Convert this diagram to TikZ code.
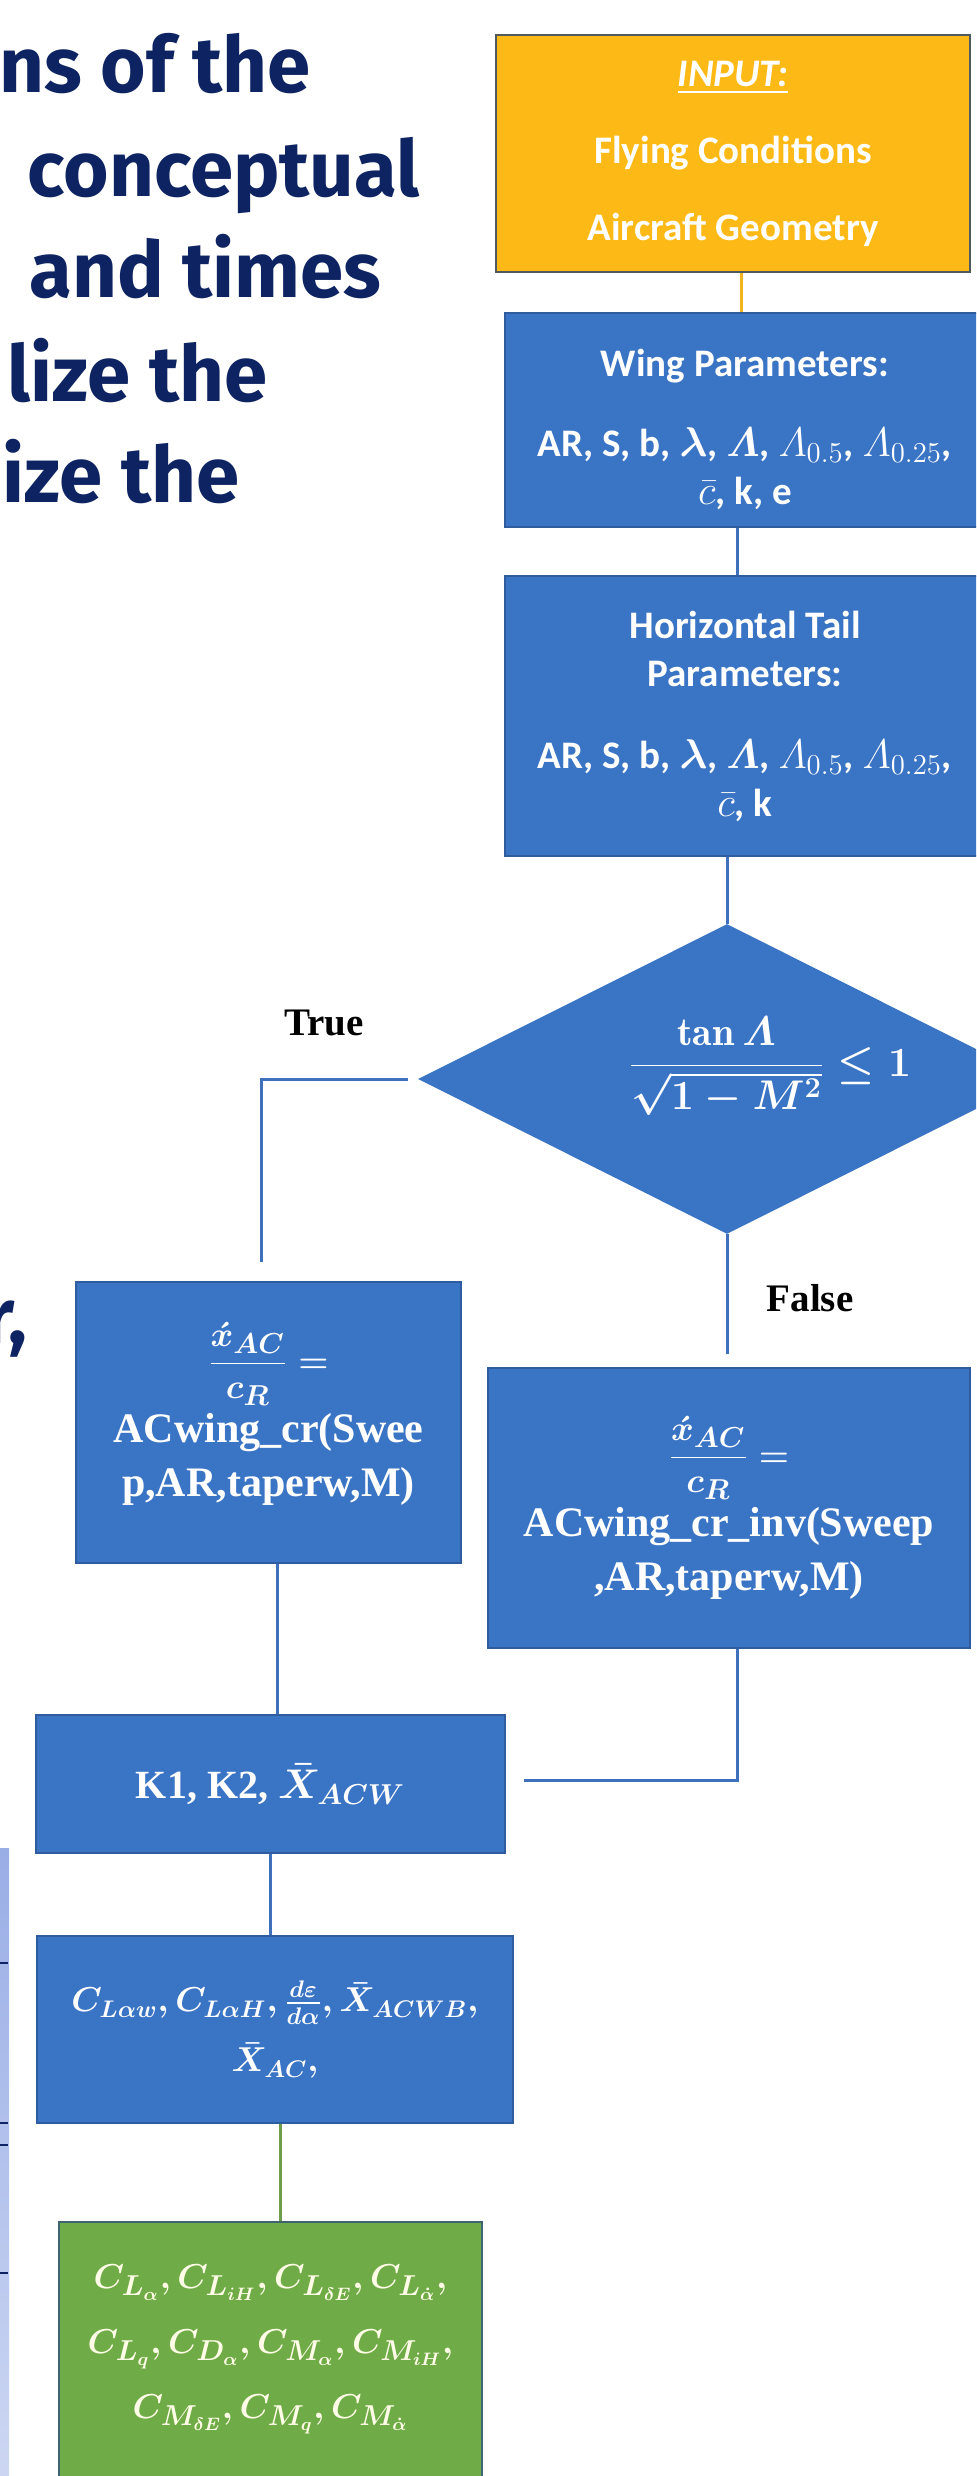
\documentclass[tikz,border=0pt]{standalone}
\usepackage{amsmath}
\usepackage{fontspec}
\usetikzlibrary{shapes}
\newfontfamily\boxfont{Carlito}
\newfontfamily\timesfont{Liberation Serif}
\newfontfamily\slidefont{Fira Sans}
\definecolor{inyellow}{HTML}{FDBA16}
\definecolor{inborder}{HTML}{4F5A5E}
\definecolor{stepblue}{HTML}{3A74C4}
\definecolor{blueborder}{HTML}{2F5C9E}
\definecolor{lineblue}{HTML}{3F70BE}
\definecolor{lineyellow}{HTML}{F2B51E}
\definecolor{linegreen}{HTML}{6E9E4B}
\definecolor{outgreen}{HTML}{6FAB46}
\definecolor{greenborder}{HTML}{3E6470}
\definecolor{creamwhite}{HTML}{FFFDE8}
\definecolor{slidenavy}{HTML}{0E2361}
\definecolor{stripblue}{HTML}{9AAEE6}

\begin{document}
\begin{tikzpicture}[x=0.5pt,y=-0.5pt]
    \tikzstyle{every node}=[inner sep=0pt]
    \tikzstyle{inbox}=[rectangle,draw=inborder,line width=1pt,fill=inyellow,text=white,align=center,font=\boxfont\bfseries\fontsize{19.5}{38.5}\selectfont]
    \tikzstyle{bluebox}=[rectangle,draw=blueborder,line width=1pt,fill=stepblue,text=white,align=center]
    \tikzstyle{sansbold}=[font=\boxfont\bfseries\fontsize{19.5}{24}\selectfont]
    \tikzstyle{serifbold}=[font=\timesfont\bfseries\boldmath\fontsize{21}{27}\selectfont]
    \tikzstyle{decision}=[diamond,fill=stepblue,minimum width=309pt,minimum height=155pt]
    \tikzstyle{resultbox}=[rectangle,draw=greenborder,line width=1pt,fill=outgreen,text=creamwhite,align=center,font=\boldmath\fontsize{19}{28.5}\selectfont]
    \tikzstyle{blueline}=[draw=lineblue,line width=1.5pt]
    \tikzstyle{branch}=[text=black,font=\timesfont\bfseries\fontsize{19.5}{24}\selectfont]
    \tikzstyle{slide}=[anchor=base east,text=slidenavy,font=\slidefont\bfseries\fontsize{39}{46}\selectfont]
    \useasboundingbox (0,0) rectangle (976,2476);
    \clip (0,0) rectangle (976,2476);

    \node[slide] (l1) at (311,93) {ns of the};
    \node[slide] (l2) at (420,197) {conceptual};
    \node[slide] (l3) at (382,298) {and times};
    \node[slide] (l4) at (268,402) {lize the};
    \node[slide] (l5) at (240,503) {ize the};
    \node[slide] (l6) at (28,1343) {r,};
    \shade[top color=stripblue,bottom color=stripblue!50!white] (0,1848) rectangle (9,2476);
    \foreach \y in {1963,2123,2145,2273}
        \draw[slidenavy,line width=1pt] (0,\y) -- (8,\y);

    \node[inbox,minimum width=237pt,minimum height=118.5pt] (input) at (733,153.5) {\underline{\itshape INPUT:}\\Flying Conditions\\Aircraft Geometry};
    \node[bluebox,sansbold,minimum width=240pt,minimum height=107pt] (wing) at (745,420) {\rule{0pt}{23pt}Wing Parameters:\\[16pt]AR, S, b, $\boldsymbol{\lambda}$, $\boldsymbol{\varLambda}$, $\varLambda_{0.5}$, $\varLambda_{0.25}$,\\$\bar{c}$, k, e};
    \node[bluebox,sansbold,minimum width=240pt,minimum height=140pt] (tail) at (745,716) {Horizontal Tail\\Parameters:\\[17pt]AR, S, b, $\boldsymbol{\lambda}$, $\boldsymbol{\varLambda}$, $\varLambda_{0.5}$, $\varLambda_{0.25}$,\\$\bar{c}$, k};
    \node[decision,label={[xshift=21.5pt,yshift=6.5pt,text=white,font=\boldmath\fontsize{20}{24}\selectfont]center:$\dfrac{\tan\varLambda}{\sqrt{1-M^2}}\le 1$}] (cond) at (727,1079) {};
    \node[branch] (truelbl) at (324,1023) {True};
    \node[branch] (falselbl) at (810,1298) {False};
    \node[bluebox,serifbold,minimum width=192.5pt,minimum height=140.5pt] (leftbox) at (268.5,1422.5) {{\fontsize{19}{22}\selectfont$\dfrac{\acute{x}_{AC}}{c_R}=$}\\[3pt]ACwing\_cr(Swee\\p,AR,taperw,M)\\[-14pt]\mbox{}};
    \node[bluebox,serifbold,minimum width=241pt,minimum height=140pt] (rightbox) at (729,1508) {{\fontsize{19}{22}\selectfont$\dfrac{\acute{x}_{AC}}{c_R}=$}\\[3pt]ACwing\_cr\_inv(Sweep\\,AR,taperw,M)};
    \node[bluebox,font=\timesfont\bfseries\boldmath\fontsize{20}{24}\selectfont,minimum width=234.5pt,minimum height=69pt] (kbox) at (270.5,1784) {K1, K2, $\bar{X}_{ACW}$};
    \node[bluebox,font=\boldmath\fontsize{17.5}{30}\selectfont,minimum width=238pt,minimum height=93.5pt] (clbox) at (275,2029.5) {$C_{L\alpha w}, C_{L\alpha H}, \frac{d\varepsilon}{d\alpha}, \bar{X}_{ACWB},$\\$\bar{X}_{AC},$};
    \node[resultbox,minimum width=211.5pt,minimum height=159pt] (coeffs) at (270.5,2381) {$C_{L_\alpha}, C_{L_{iH}}, C_{L_{\delta E}}, C_{L_{\dot\alpha}},$\\[4pt]$C_{L_q}, C_{D_\alpha}, C_{M_\alpha}, C_{M_{iH}},$\\[4pt]$C_{M_{\delta E}}, C_{M_q}, C_{M_{\dot\alpha}}$\\[11pt]\mbox{}};

    \draw[line width=1.5pt,draw=lineyellow] ([xshift=4pt]input.south) -- ([xshift=4pt]input.south |- wing.north);
    \draw[blueline] ([xshift=-4pt]wing.south) -- ([xshift=-4pt]wing.south |- tail.north);
    \draw[blueline] (cond.north |- tail.south) -- (cond.north);
    \draw[blueline] ([xshift=-5pt]cond.west) -| ([xshift=-3.75pt,yshift=9.5pt]leftbox.north);
    \draw[blueline] (cond.south) -- ([yshift=6.5pt]cond.south |- rightbox.north);
    \draw[blueline] ([xshift=4.25pt]leftbox.south) -- ([xshift=4.25pt]leftbox.south |- kbox.north);
    \draw[blueline] ([xshift=4pt]rightbox.south) |- ([xshift=9pt,yshift=2pt]kbox.east);
    \draw[blueline] (kbox.south) -- (kbox.south |- clbox.north);
    \draw[line width=1.5pt,draw=linegreen] ([xshift=2.5pt]clbox.south) -- ([xshift=2.5pt]clbox.south |- coeffs.north);
\end{tikzpicture}
\end{document}
